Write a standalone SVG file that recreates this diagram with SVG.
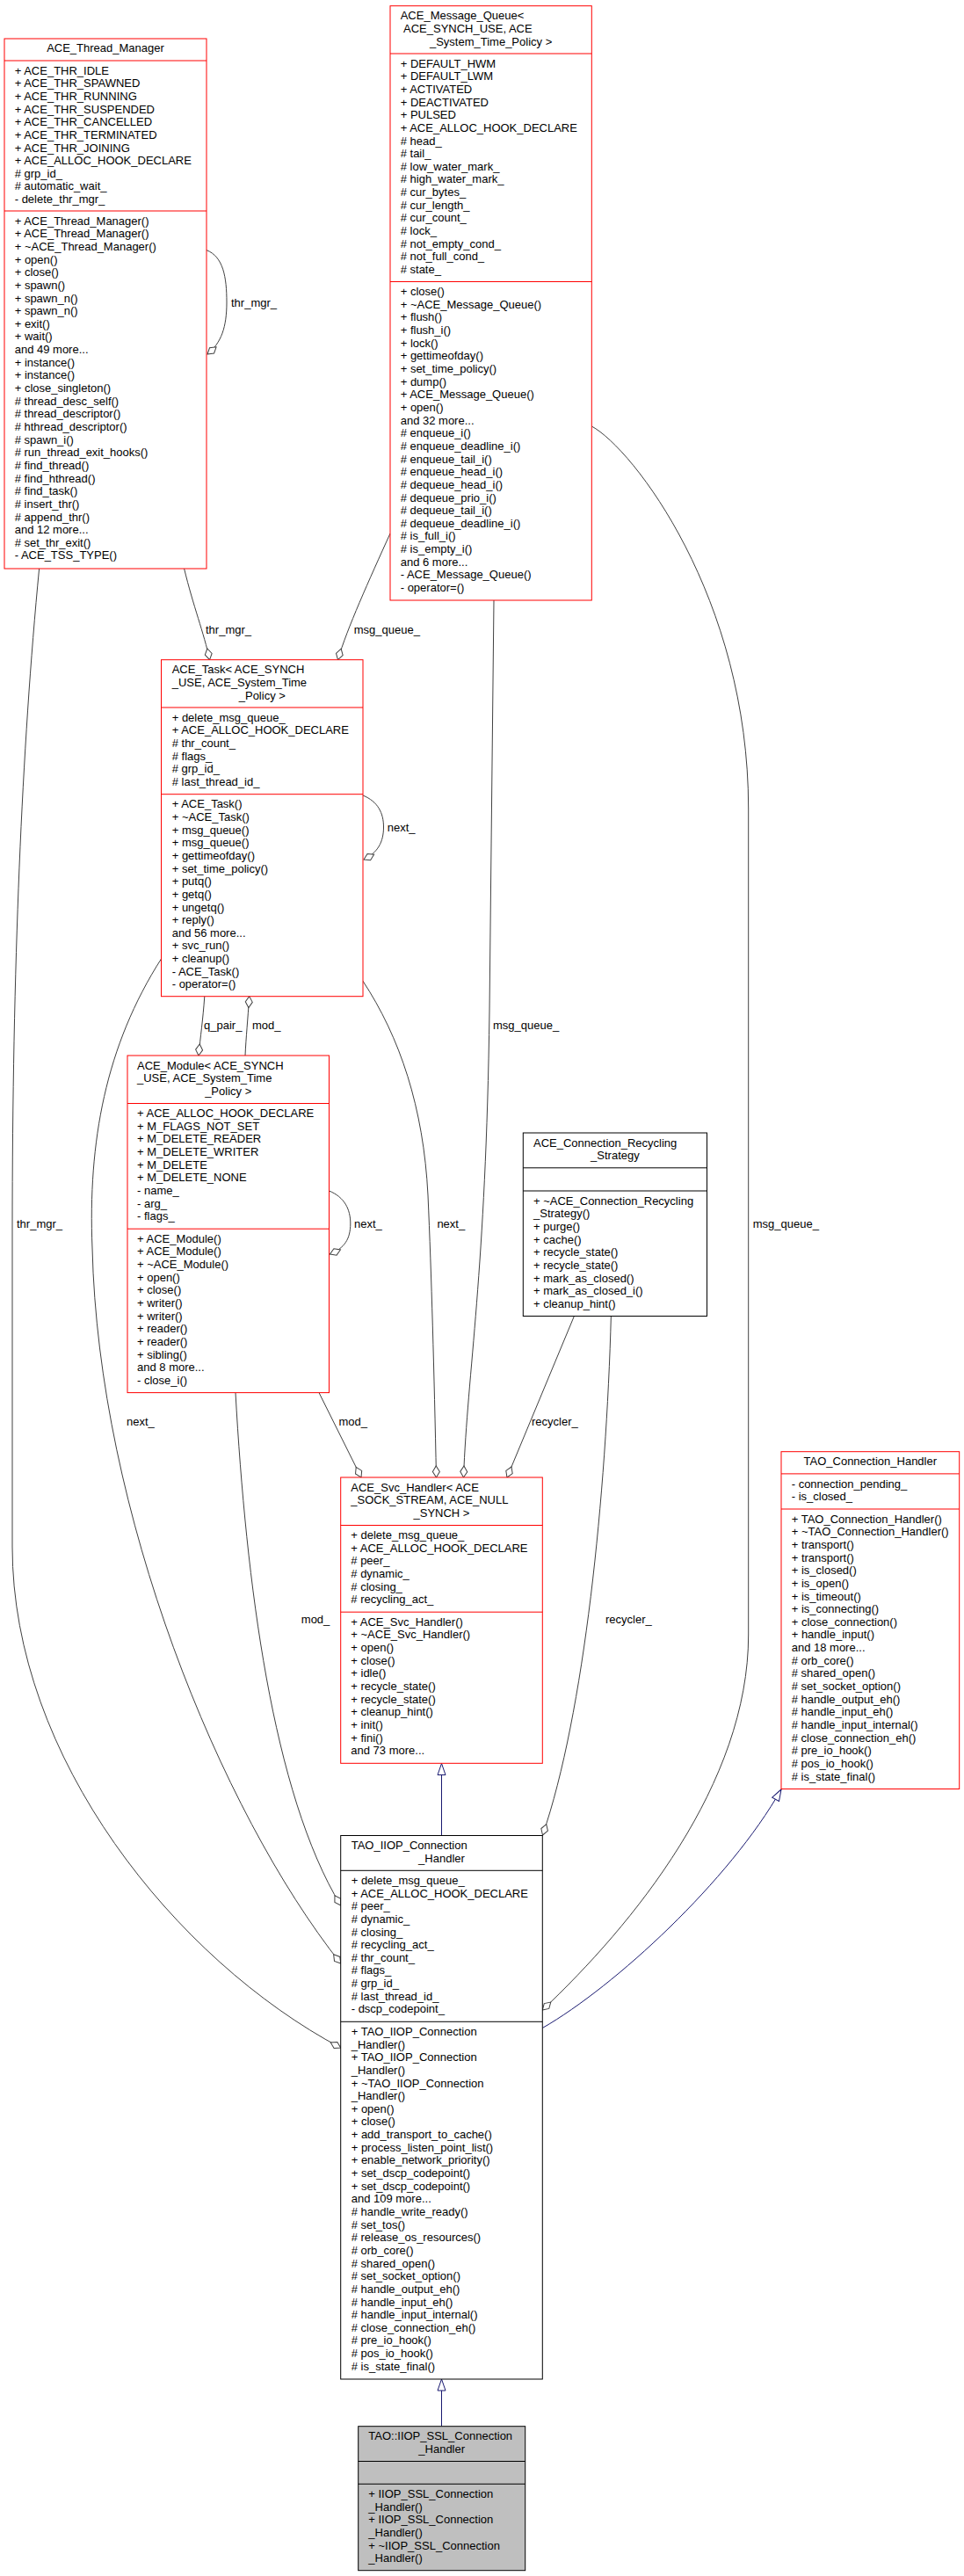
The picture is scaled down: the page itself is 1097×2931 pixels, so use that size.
<svg xmlns="http://www.w3.org/2000/svg" width="1097" height="2931" viewBox="0 0 1097 2931">
<style>
.t{font-family:"Liberation Sans",Arial,Helvetica,sans-serif;font-size:13px;fill:#000}
.c{text-anchor:middle}
.br{fill:#fff;stroke:#ff0000;stroke-width:1}
.lr{stroke:#ff0000;stroke-width:1}
.bk{fill:#fff;stroke:#000;stroke-width:1}
.lk{stroke:#000;stroke-width:1}
.gr{fill:#bfbfbf;stroke:#000;stroke-width:1}
.e{fill:none;stroke:#404040;stroke-width:1;marker-end:url(#od)}
.i{fill:none;stroke:#191970;stroke-width:1;marker-end:url(#tri)}
</style>
<defs>
<marker id="od" markerUnits="userSpaceOnUse" viewBox="-15 -5 16 10" markerWidth="16" markerHeight="10" refX="0" refY="0" orient="auto">
<path d="M0,0 L-6.5,-4 L-13,0 L-6.5,4 Z" fill="#fff" stroke="#404040" stroke-width="1"/>
</marker>
<marker id="tri" markerUnits="userSpaceOnUse" viewBox="-15 -6 16 12" markerWidth="16" markerHeight="12" refX="0" refY="0" orient="auto">
<path d="M0,0 L-13,-4.5 L-13,4.5 Z" fill="#fff" stroke="#191970" stroke-width="1"/>
</marker>
</defs>
<rect width="1097" height="2931" fill="#fff"/>

<g id="connectors">
<path class="e" d="M235,284.6 C254,292 258,315 258,344 C258,372 252,390 236,403"/>
<path class="e" d="M209.6,647 C220,690 232,720 238.6,750.7"/>
<path class="e" d="M444,607 C420,660 395,715 384.5,750.7"/>
<path class="e" d="M413,905 C430,912 436.5,925 436.5,941 C436.5,958 430,970 414,978"/>
<path class="e" d="M232.8,1133.6 C231,1160 228,1180 226,1201"/>
<path class="e" d="M279,1201 C280,1180 282,1160 283.7,1133.6"/>
<path class="e" d="M374.5,1355 C392,1362 398.8,1376 398.8,1392 C398.8,1410 392,1420 375.5,1427"/>
<path class="e" d="M44.6,647 C25,850 14,1100 14,1400 L14,1760 C14,2000 200,2230 387.7,2330"/>
<path class="e" d="M183.8,1090.5 C120,1190 100,1300 105,1420 C112,1720 250,2060 387.7,2234"/>
<path class="e" d="M268,1584.6 C280,1800 310,2040 387.7,2168"/>
<path class="e" d="M363,1584.6 L411,1681"/>
<path class="e" d="M412.8,1116 C455,1180 482,1260 487,1360 C491,1450 494,1560 496.5,1681"/>
<path class="e" d="M562,683 L557,1150 C553,1450 532,1560 527.5,1681"/>
<path class="e" d="M654,1496 L577,1681"/>
<path class="e" d="M695.4,1496 C690,1700 665,1950 617.5,2088"/>
<path class="e" d="M673.3,485 C720,510 851.7,680 851.7,920 L851.7,1860 C851.7,2030 720,2190 617.3,2287"/>
<path class="i" d="M502.5,2088.5 L502.5,2006.5"/>
<path class="i" d="M617.3,2307.5 C700,2260 830,2140 889,2036"/>
<path class="i" d="M502.5,2760.7 L502.5,2707"/>
<g class="t">
<text x="263" y="348.5">thr_mgr_</text>
<text x="234" y="721.3">thr_mgr_</text>
<text x="402.7" y="721.3">msg_queue_</text>
<text x="440.7" y="945.5">next_</text>
<text x="232" y="1171.3">q_pair_</text>
<text x="287" y="1171.3">mod_</text>
<text x="561" y="1171.3">msg_queue_</text>
<text x="403" y="1397">next_</text>
<text x="19" y="1397">thr_mgr_</text>
<text x="497.4" y="1397">next_</text>
<text x="856.7" y="1397">msg_queue_</text>
<text x="144" y="1621.5">next_</text>
<text x="385.5" y="1621.5">mod_</text>
<text x="605" y="1621.5">recycler_</text>
<text x="342.8" y="1847.3">mod_</text>
<text x="689" y="1847.3">recycler_</text>
</g>
</g>

<g id="node-ACE_Thread_Manager">
<rect class="br" x="5" y="44" width="230" height="603"/>
<line class="lr" x1="5" y1="69" x2="235" y2="69"/>
<line class="lr" x1="5" y1="240" x2="235" y2="240"/>
<text class="t c" x="120" y="59">ACE_Thread_Manager</text>
<text class="t" y="84.6"><tspan x="16.7">+ ACE_THR_IDLE</tspan><tspan x="16.7" dy="14.65">+ ACE_THR_SPAWNED</tspan><tspan x="16.7" dy="14.65">+ ACE_THR_RUNNING</tspan><tspan x="16.7" dy="14.65">+ ACE_THR_SUSPENDED</tspan><tspan x="16.7" dy="14.65">+ ACE_THR_CANCELLED</tspan><tspan x="16.7" dy="14.65">+ ACE_THR_TERMINATED</tspan><tspan x="16.7" dy="14.65">+ ACE_THR_JOINING</tspan><tspan x="16.7" dy="14.65">+ ACE_ALLOC_HOOK_DECLARE</tspan><tspan x="16.7" dy="14.65"># grp_id_</tspan><tspan x="16.7" dy="14.65"># automatic_wait_</tspan><tspan x="16.7" dy="14.65">- delete_thr_mgr_</tspan></text>
<text class="t" y="255.6"><tspan x="16.7">+ ACE_Thread_Manager()</tspan><tspan x="16.7" dy="14.65">+ ACE_Thread_Manager()</tspan><tspan x="16.7" dy="14.65">+ ~ACE_Thread_Manager()</tspan><tspan x="16.7" dy="14.65">+ open()</tspan><tspan x="16.7" dy="14.65">+ close()</tspan><tspan x="16.7" dy="14.65">+ spawn()</tspan><tspan x="16.7" dy="14.65">+ spawn_n()</tspan><tspan x="16.7" dy="14.65">+ spawn_n()</tspan><tspan x="16.7" dy="14.65">+ exit()</tspan><tspan x="16.7" dy="14.65">+ wait()</tspan><tspan x="16.7" dy="14.65">and 49 more...</tspan><tspan x="16.7" dy="14.65">+ instance()</tspan><tspan x="16.7" dy="14.65">+ instance()</tspan><tspan x="16.7" dy="14.65">+ close_singleton()</tspan><tspan x="16.7" dy="14.65"># thread_desc_self()</tspan><tspan x="16.7" dy="14.65"># thread_descriptor()</tspan><tspan x="16.7" dy="14.65"># hthread_descriptor()</tspan><tspan x="16.7" dy="14.65"># spawn_i()</tspan><tspan x="16.7" dy="14.65"># run_thread_exit_hooks()</tspan><tspan x="16.7" dy="14.65"># find_thread()</tspan><tspan x="16.7" dy="14.65"># find_hthread()</tspan><tspan x="16.7" dy="14.65"># find_task()</tspan><tspan x="16.7" dy="14.65"># insert_thr()</tspan><tspan x="16.7" dy="14.65"># append_thr()</tspan><tspan x="16.7" dy="14.65">and 12 more...</tspan><tspan x="16.7" dy="14.65"># set_thr_exit()</tspan><tspan x="16.7" dy="14.65">- ACE_TSS_TYPE()</tspan></text>
</g>

<g id="node-ACE_Message_Queue">
<rect class="br" x="444" y="6.7" width="229.3" height="676.3"/>
<line class="lr" x1="444" y1="61" x2="673.3" y2="61"/>
<line class="lr" x1="444" y1="320.5" x2="673.3" y2="320.5"/>
<text class="t" x="455.7" y="22.3">ACE_Message_Queue&lt;</text>
<text class="t" x="459" y="36.9">ACE_SYNCH_USE, ACE</text>
<text class="t c" x="558.6" y="51.6">_System_Time_Policy &gt;</text>
<text class="t" y="76.6"><tspan x="455.7">+ DEFAULT_HWM</tspan><tspan x="455.7" dy="14.65">+ DEFAULT_LWM</tspan><tspan x="455.7" dy="14.65">+ ACTIVATED</tspan><tspan x="455.7" dy="14.65">+ DEACTIVATED</tspan><tspan x="455.7" dy="14.65">+ PULSED</tspan><tspan x="455.7" dy="14.65">+ ACE_ALLOC_HOOK_DECLARE</tspan><tspan x="455.7" dy="14.65"># head_</tspan><tspan x="455.7" dy="14.65"># tail_</tspan><tspan x="455.7" dy="14.65"># low_water_mark_</tspan><tspan x="455.7" dy="14.65"># high_water_mark_</tspan><tspan x="455.7" dy="14.65"># cur_bytes_</tspan><tspan x="455.7" dy="14.65"># cur_length_</tspan><tspan x="455.7" dy="14.65"># cur_count_</tspan><tspan x="455.7" dy="14.65"># lock_</tspan><tspan x="455.7" dy="14.65"># not_empty_cond_</tspan><tspan x="455.7" dy="14.65"># not_full_cond_</tspan><tspan x="455.7" dy="14.65"># state_</tspan></text>
<text class="t" y="336.1"><tspan x="455.7">+ close()</tspan><tspan x="455.7" dy="14.65">+ ~ACE_Message_Queue()</tspan><tspan x="455.7" dy="14.65">+ flush()</tspan><tspan x="455.7" dy="14.65">+ flush_i()</tspan><tspan x="455.7" dy="14.65">+ lock()</tspan><tspan x="455.7" dy="14.65">+ gettimeofday()</tspan><tspan x="455.7" dy="14.65">+ set_time_policy()</tspan><tspan x="455.7" dy="14.65">+ dump()</tspan><tspan x="455.7" dy="14.65">+ ACE_Message_Queue()</tspan><tspan x="455.7" dy="14.65">+ open()</tspan><tspan x="455.7" dy="14.65">and 32 more...</tspan><tspan x="455.7" dy="14.65"># enqueue_i()</tspan><tspan x="455.7" dy="14.65"># enqueue_deadline_i()</tspan><tspan x="455.7" dy="14.65"># enqueue_tail_i()</tspan><tspan x="455.7" dy="14.65"># enqueue_head_i()</tspan><tspan x="455.7" dy="14.65"># dequeue_head_i()</tspan><tspan x="455.7" dy="14.65"># dequeue_prio_i()</tspan><tspan x="455.7" dy="14.65"># dequeue_tail_i()</tspan><tspan x="455.7" dy="14.65"># dequeue_deadline_i()</tspan><tspan x="455.7" dy="14.65"># is_full_i()</tspan><tspan x="455.7" dy="14.65"># is_empty_i()</tspan><tspan x="455.7" dy="14.65">and 6 more...</tspan><tspan x="455.7" dy="14.65">- ACE_Message_Queue()</tspan><tspan x="455.7" dy="14.65">- operator=()</tspan></text>
</g>

<g id="node-ACE_Task">
<rect class="br" x="183.5" y="750.7" width="229.5" height="383"/>
<line class="lr" x1="183.5" y1="805" x2="413" y2="805"/>
<line class="lr" x1="183.5" y1="903.7" x2="413" y2="903.7"/>
<text class="t" x="195.7" y="766.3">ACE_Task&lt; ACE_SYNCH</text>
<text class="t" x="195.7" y="780.9">_USE, ACE_System_Time</text>
<text class="t c" x="298.3" y="795.6">_Policy &gt;</text>
<text class="t" y="820.6"><tspan x="195.7">+ delete_msg_queue_</tspan><tspan x="195.7" dy="14.65">+ ACE_ALLOC_HOOK_DECLARE</tspan><tspan x="195.7" dy="14.65"># thr_count_</tspan><tspan x="195.7" dy="14.65"># flags_</tspan><tspan x="195.7" dy="14.65"># grp_id_</tspan><tspan x="195.7" dy="14.65"># last_thread_id_</tspan></text>
<text class="t" y="919.3"><tspan x="195.7">+ ACE_Task()</tspan><tspan x="195.7" dy="14.65">+ ~ACE_Task()</tspan><tspan x="195.7" dy="14.65">+ msg_queue()</tspan><tspan x="195.7" dy="14.65">+ msg_queue()</tspan><tspan x="195.7" dy="14.65">+ gettimeofday()</tspan><tspan x="195.7" dy="14.65">+ set_time_policy()</tspan><tspan x="195.7" dy="14.65">+ putq()</tspan><tspan x="195.7" dy="14.65">+ getq()</tspan><tspan x="195.7" dy="14.65">+ ungetq()</tspan><tspan x="195.7" dy="14.65">+ reply()</tspan><tspan x="195.7" dy="14.65">and 56 more...</tspan><tspan x="195.7" dy="14.65">+ svc_run()</tspan><tspan x="195.7" dy="14.65">+ cleanup()</tspan><tspan x="195.7" dy="14.65">- ACE_Task()</tspan><tspan x="195.7" dy="14.65">- operator=()</tspan></text>
</g>

<g id="node-ACE_Module">
<rect class="br" x="145" y="1201" width="229.5" height="383.6"/>
<line class="lr" x1="145" y1="1255.5" x2="374.5" y2="1255.5"/>
<line class="lr" x1="145" y1="1398.2" x2="374.5" y2="1398.2"/>
<text class="t" x="156" y="1216.6">ACE_Module&lt; ACE_SYNCH</text>
<text class="t" x="156" y="1231.2">_USE, ACE_System_Time</text>
<text class="t c" x="259.7" y="1245.9">_Policy &gt;</text>
<text class="t" y="1271.1"><tspan x="156">+ ACE_ALLOC_HOOK_DECLARE</tspan><tspan x="156" dy="14.65">+ M_FLAGS_NOT_SET</tspan><tspan x="156" dy="14.65">+ M_DELETE_READER</tspan><tspan x="156" dy="14.65">+ M_DELETE_WRITER</tspan><tspan x="156" dy="14.65">+ M_DELETE</tspan><tspan x="156" dy="14.65">+ M_DELETE_NONE</tspan><tspan x="156" dy="14.65">- name_</tspan><tspan x="156" dy="14.65">- arg_</tspan><tspan x="156" dy="14.65">- flags_</tspan></text>
<text class="t" y="1413.8"><tspan x="156">+ ACE_Module()</tspan><tspan x="156" dy="14.65">+ ACE_Module()</tspan><tspan x="156" dy="14.65">+ ~ACE_Module()</tspan><tspan x="156" dy="14.65">+ open()</tspan><tspan x="156" dy="14.65">+ close()</tspan><tspan x="156" dy="14.65">+ writer()</tspan><tspan x="156" dy="14.65">+ writer()</tspan><tspan x="156" dy="14.65">+ reader()</tspan><tspan x="156" dy="14.65">+ reader()</tspan><tspan x="156" dy="14.65">+ sibling()</tspan><tspan x="156" dy="14.65">and 8 more...</tspan><tspan x="156" dy="14.65">- close_i()</tspan></text>
</g>

<g id="node-ACE_Connection_Recycling_Strategy">
<rect class="bk" x="595.3" y="1289" width="209.2" height="208.5"/>
<line class="lk" x1="595.3" y1="1328.8" x2="804.5" y2="1328.8"/>
<line class="lk" x1="595.3" y1="1355" x2="804.5" y2="1355"/>
<text class="t" x="607" y="1304.6">ACE_Connection_Recycling</text>
<text class="t c" x="699.9" y="1319.2">_Strategy</text>
<text class="t" y="1370.6"><tspan x="607">+ ~ACE_Connection_Recycling</tspan><tspan x="607" dy="14.65">_Strategy()</tspan><tspan x="607" dy="14.65">+ purge()</tspan><tspan x="607" dy="14.65">+ cache()</tspan><tspan x="607" dy="14.65">+ recycle_state()</tspan><tspan x="607" dy="14.65">+ recycle_state()</tspan><tspan x="607" dy="14.65">+ mark_as_closed()</tspan><tspan x="607" dy="14.65">+ mark_as_closed_i()</tspan><tspan x="607" dy="14.65">+ cleanup_hint()</tspan></text>
</g>

<g id="node-ACE_Svc_Handler">
<rect class="br" x="387.7" y="1681" width="229.6" height="325.3"/>
<line class="lr" x1="387.7" y1="1735.5" x2="617.3" y2="1735.5"/>
<line class="lr" x1="387.7" y1="1834.2" x2="617.3" y2="1834.2"/>
<text class="t" x="399.3" y="1696.6">ACE_Svc_Handler&lt; ACE</text>
<text class="t" x="399.3" y="1711.2">_SOCK_STREAM, ACE_NULL</text>
<text class="t c" x="502.5" y="1725.9">_SYNCH &gt;</text>
<text class="t" y="1751.1"><tspan x="399.3">+ delete_msg_queue_</tspan><tspan x="399.3" dy="14.65">+ ACE_ALLOC_HOOK_DECLARE</tspan><tspan x="399.3" dy="14.65"># peer_</tspan><tspan x="399.3" dy="14.65"># dynamic_</tspan><tspan x="399.3" dy="14.65"># closing_</tspan><tspan x="399.3" dy="14.65"># recycling_act_</tspan></text>
<text class="t" y="1849.8"><tspan x="399.3">+ ACE_Svc_Handler()</tspan><tspan x="399.3" dy="14.65">+ ~ACE_Svc_Handler()</tspan><tspan x="399.3" dy="14.65">+ open()</tspan><tspan x="399.3" dy="14.65">+ close()</tspan><tspan x="399.3" dy="14.65">+ idle()</tspan><tspan x="399.3" dy="14.65">+ recycle_state()</tspan><tspan x="399.3" dy="14.65">+ recycle_state()</tspan><tspan x="399.3" dy="14.65">+ cleanup_hint()</tspan><tspan x="399.3" dy="14.65">+ init()</tspan><tspan x="399.3" dy="14.65">+ fini()</tspan><tspan x="399.3" dy="14.65">and 73 more...</tspan></text>
</g>

<g id="node-TAO_Connection_Handler">
<rect class="br" x="889" y="1651.7" width="202.7" height="383.8"/>
<line class="lr" x1="889" y1="1676.9" x2="1091.7" y2="1676.9"/>
<line class="lr" x1="889" y1="1717" x2="1091.7" y2="1717"/>
<text class="t c" x="990.3" y="1667.3">TAO_Connection_Handler</text>
<text class="t" y="1692.5"><tspan x="900.7">- connection_pending_</tspan><tspan x="900.7" dy="14.65">- is_closed_</tspan></text>
<text class="t" y="1732.6"><tspan x="900.7">+ TAO_Connection_Handler()</tspan><tspan x="900.7" dy="14.65">+ ~TAO_Connection_Handler()</tspan><tspan x="900.7" dy="14.65">+ transport()</tspan><tspan x="900.7" dy="14.65">+ transport()</tspan><tspan x="900.7" dy="14.65">+ is_closed()</tspan><tspan x="900.7" dy="14.65">+ is_open()</tspan><tspan x="900.7" dy="14.65">+ is_timeout()</tspan><tspan x="900.7" dy="14.65">+ is_connecting()</tspan><tspan x="900.7" dy="14.65">+ close_connection()</tspan><tspan x="900.7" dy="14.65">+ handle_input()</tspan><tspan x="900.7" dy="14.65">and 18 more...</tspan><tspan x="900.7" dy="14.65"># orb_core()</tspan><tspan x="900.7" dy="14.65"># shared_open()</tspan><tspan x="900.7" dy="14.65"># set_socket_option()</tspan><tspan x="900.7" dy="14.65"># handle_output_eh()</tspan><tspan x="900.7" dy="14.65"># handle_input_eh()</tspan><tspan x="900.7" dy="14.65"># handle_input_internal()</tspan><tspan x="900.7" dy="14.65"># close_connection_eh()</tspan><tspan x="900.7" dy="14.65"># pre_io_hook()</tspan><tspan x="900.7" dy="14.65"># pos_io_hook()</tspan><tspan x="900.7" dy="14.65"># is_state_final()</tspan></text>
</g>

<g id="node-TAO_IIOP_Connection_Handler">
<rect class="bk" x="387.7" y="2088.5" width="229.6" height="618.5"/>
<line class="lk" x1="387.7" y1="2128.3" x2="617.3" y2="2128.3"/>
<line class="lk" x1="387.7" y1="2300.3" x2="617.3" y2="2300.3"/>
<text class="t" x="399.7" y="2104.1">TAO_IIOP_Connection</text>
<text class="t c" x="502.5" y="2118.7">_Handler</text>
<text class="t" y="2143.9"><tspan x="399.7">+ delete_msg_queue_</tspan><tspan x="399.7" dy="14.65">+ ACE_ALLOC_HOOK_DECLARE</tspan><tspan x="399.7" dy="14.65"># peer_</tspan><tspan x="399.7" dy="14.65"># dynamic_</tspan><tspan x="399.7" dy="14.65"># closing_</tspan><tspan x="399.7" dy="14.65"># recycling_act_</tspan><tspan x="399.7" dy="14.65"># thr_count_</tspan><tspan x="399.7" dy="14.65"># flags_</tspan><tspan x="399.7" dy="14.65"># grp_id_</tspan><tspan x="399.7" dy="14.65"># last_thread_id_</tspan><tspan x="399.7" dy="14.65">- dscp_codepoint_</tspan></text>
<text class="t" y="2315.9"><tspan x="399.7">+ TAO_IIOP_Connection</tspan><tspan x="399.7" dy="14.65">_Handler()</tspan><tspan x="399.7" dy="14.65">+ TAO_IIOP_Connection</tspan><tspan x="399.7" dy="14.65">_Handler()</tspan><tspan x="399.7" dy="14.65">+ ~TAO_IIOP_Connection</tspan><tspan x="399.7" dy="14.65">_Handler()</tspan><tspan x="399.7" dy="14.65">+ open()</tspan><tspan x="399.7" dy="14.65">+ close()</tspan><tspan x="399.7" dy="14.65">+ add_transport_to_cache()</tspan><tspan x="399.7" dy="14.65">+ process_listen_point_list()</tspan><tspan x="399.7" dy="14.65">+ enable_network_priority()</tspan><tspan x="399.7" dy="14.65">+ set_dscp_codepoint()</tspan><tspan x="399.7" dy="14.65">+ set_dscp_codepoint()</tspan><tspan x="399.7" dy="14.65">and 109 more...</tspan><tspan x="399.7" dy="14.65"># handle_write_ready()</tspan><tspan x="399.7" dy="14.65"># set_tos()</tspan><tspan x="399.7" dy="14.65"># release_os_resources()</tspan><tspan x="399.7" dy="14.65"># orb_core()</tspan><tspan x="399.7" dy="14.65"># shared_open()</tspan><tspan x="399.7" dy="14.65"># set_socket_option()</tspan><tspan x="399.7" dy="14.65"># handle_output_eh()</tspan><tspan x="399.7" dy="14.65"># handle_input_eh()</tspan><tspan x="399.7" dy="14.65"># handle_input_internal()</tspan><tspan x="399.7" dy="14.65"># close_connection_eh()</tspan><tspan x="399.7" dy="14.65"># pre_io_hook()</tspan><tspan x="399.7" dy="14.65"># pos_io_hook()</tspan><tspan x="399.7" dy="14.65"># is_state_final()</tspan></text>
</g>

<g id="node-TAO_IIOP_SSL_Connection_Handler">
<rect class="gr" x="407.7" y="2760.7" width="190" height="164"/>
<line class="lk" x1="407.7" y1="2800.5" x2="597.7" y2="2800.5"/>
<line class="lk" x1="407.7" y1="2826.3" x2="597.7" y2="2826.3"/>
<text class="t" x="419.3" y="2776.3">TAO::IIOP_SSL_Connection</text>
<text class="t c" x="502.7" y="2790.9">_Handler</text>
<text class="t" y="2841.9"><tspan x="419.3">+ IIOP_SSL_Connection</tspan><tspan x="419.3" dy="14.65">_Handler()</tspan><tspan x="419.3" dy="14.65">+ IIOP_SSL_Connection</tspan><tspan x="419.3" dy="14.65">_Handler()</tspan><tspan x="419.3" dy="14.65">+ ~IIOP_SSL_Connection</tspan><tspan x="419.3" dy="14.65">_Handler()</tspan></text>
</g>
</svg>
